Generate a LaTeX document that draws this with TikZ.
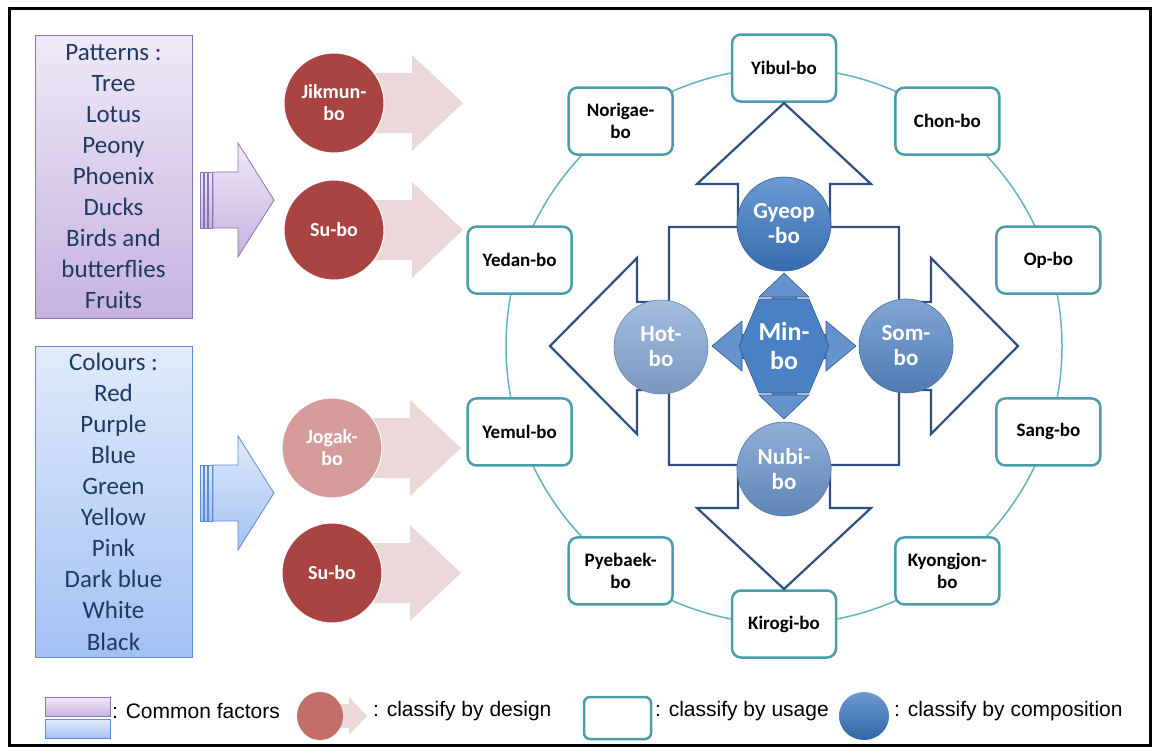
\documentclass[tikz,border=0pt]{standalone}
\usepackage{fontspec}
\setmainfont{Carlito}
\newfontfamily\legendfont{Liberation Sans}
\usetikzlibrary{calc,shapes.geometric}
\definecolor{textnavy}{HTML}{1F3A60}
\definecolor{purpletop}{HTML}{EFE9F7}
\definecolor{purplebot}{HTML}{C5B2E0}
\definecolor{purpleline}{HTML}{8C73B5}
\definecolor{bluetop}{HTML}{E0EBFC}
\definecolor{bluebot}{HTML}{A2C1F2}
\definecolor{blueline}{HTML}{5E8ED2}
\definecolor{designred}{HTML}{A94443}
\definecolor{designpink}{HTML}{D59C9B}
\definecolor{designkey}{HTML}{C46E6A}
\definecolor{designshaft}{HTML}{EBD9D9}
\definecolor{usageteal}{HTML}{4B9DAB}
\definecolor{ringteal}{HTML}{62B5C0}
\definecolor{compline}{HTML}{2F4F80}
\definecolor{gyeopblue}{HTML}{3B78C2}
\definecolor{hotblue}{HTML}{86A8D4}
\definecolor{somblue}{HTML}{5788C6}
\definecolor{nubiblue}{HTML}{6A94CA}
\definecolor{minblue}{HTML}{4A80C4}
\tikzset{
  factorbox/.style={minimum width=157pt,minimum height=283pt,inner sep=0pt,
                    line width=1pt,align=center,text=textnavy,
                    font=\fontsize{25}{31.1}\selectfont},
  designdot/.style={circle,minimum size=100pt,inner sep=0pt,draw=white,
                    line width=1pt,text=white,align=center,
                    font=\fontsize{20}{22}\selectfont\bfseries},
  usagebox/.style={draw=usageteal,line width=2.5pt,fill=white,rounded corners=9pt,
                   minimum width=104pt,minimum height=67pt,inner sep=0pt,
                   align=center,font=\fontsize{19}{22}\selectfont\bfseries},
  compdot/.style={circle,minimum size=94pt,inner sep=0pt,draw=#1!80!black,
                  line width=0.6pt,top color=#1!75!white,bottom color=#1!90!black,
                  text=white,align=center,font=\fontsize{23}{25}\selectfont\bfseries},
  compoutline/.style={draw=compline,line width=2.2pt,fill=white,line join=miter},
  minbopart/.style={fill=minblue!85!white,draw=minblue!70!black,line width=0.6pt},
  minbobody/.style={fill=minblue,draw=minblue!70!black,line width=0.6pt},
  legendtext/.style={anchor=west,inner sep=0pt,
                     font=\legendfont\fontsize{21}{24}\selectfont}
}
\begin{document}
\begin{tikzpicture}[x=1pt,y=-1pt]
  \useasboundingbox (0,0) rectangle (1158,753);
  \fill[white] (0,0) rectangle (1158,753);
  \draw[line width=3pt] (9.5,8.5) rectangle (1150.5,745.5);
  \coordinate (C) at (784,346);

  \node[factorbox,draw=purpleline,top color=purpletop,bottom color=purplebot] (pat)
    at (113.5,176.5) {Patterns :\\Tree\\Lotus\\Peony\\Phoenix\\Ducks\\Birds and\\butterflies\\Fruits};
  \node[factorbox,minimum height=311pt,draw=blueline,top color=bluetop,bottom color=bluebot] (col)
    at (113.5,501.5) {Colours :\\Red\\Purple\\Blue\\Green\\Yellow\\Pink\\Dark blue\\White\\Black};

  \foreach \cy/\tc/\bc/\lc in {200/purpletop/purplebot/purpleline,493/bluetop/bluebot/blueline}{
    \foreach \sx/\ex in {200/203,204.5/207,208.5/212}
      \draw[\lc,line width=0.6pt,top color=\tc,bottom color=\bc] (\sx,\cy-28) rectangle (\ex,\cy+28);
    \draw[\lc,line width=0.8pt,top color=\tc,bottom color=\bc]
      (213,\cy-28) -- (238,\cy-28) -- (238,\cy-57) -- (274,\cy) -- (238,\cy+57) -- (238,\cy+28) -- (213,\cy+28) -- cycle;
  }

  \foreach \name/\px/\py/\col/\txt in {jikmun/334/103/designred/Jikmun-\\bo,
      subotop/334/230/designred/Su-bo,jogak/332/448/designpink/Jogak-\\bo,
      subobot/332/573/designred/Su-bo}{
    \fill[designshaft] (\px,\py) ++(0,-30) -- ++(78,0) -- ++(0,-18) -- ++(51,48)
      -- ++(-51,48) -- ++(0,-18) -- ++(-78,0) -- cycle;
    \node[designdot,fill=\col] (\name) at (\px,\py) {\txt};
  }

  \draw[ringteal,line width=1.5pt] (C) circle[radius=278];
  \foreach \name/\ang/\txt in {yibul/90/Yibul-bo,chon/54/Chon-bo,opbo/18/Op-bo,
      sang/-18/Sang-bo,kyongjon/-54/Kyongjon-\\bo,kirogi/-90/Kirogi-bo,
      pyebaek/-126/Pyebaek-\\bo,yemul/-162/Yemul-bo,yedan/162/Yedan-bo,
      norigae/126/Norigae-\\bo}
    \node[usagebox] (\name) at ($(C)+(-\ang:278)$) {\txt};

  \draw[compoutline,shift={(C)}] (0,-243) -- (87,-162) -- (46,-162) -- (46,-119) -- (115,-119)
    -- (115,-44) -- (147,-44) -- (147,-88) -- (234,0) -- (147,88) -- (147,44) -- (115,44)
    -- (115,119) -- (46,119) -- (46,162) -- (87,162) -- (0,243) -- (-87,162) -- (-46,162)
    -- (-46,119) -- (-115,119) -- (-115,44) -- (-147,44) -- (-147,88) -- (-234,0)
    -- (-147,-88) -- (-147,-44) -- (-115,-44) -- (-115,-119) -- (-46,-119) -- (-46,-162)
    -- (-87,-162) -- cycle;

  \node[compdot=gyeopblue] (gyeop) at ($(C)+(0,-122)$) {Gyeop\\-bo};
  \node[compdot=nubiblue] (nubi) at ($(C)+(0,123)$) {Nubi-\\bo};
  \node[compdot=hotblue] (hot) at ($(C)+(-123,1)$) {Hot-\\bo};
  \node[compdot=somblue] (som) at ($(C)+(122,0)$) {Som-\\bo};

  \begin{scope}[shift={(C)}]
    \filldraw[minbopart] (-12,-50) rectangle (12,50);
    \filldraw[minbopart] (-43,-12) rectangle (43,12);
    \filldraw[minbopart] (-25,-49) -- (25,-49) -- (0,-73) -- cycle;
    \filldraw[minbopart] (-25,49) -- (25,49) -- (0,73) -- cycle;
    \filldraw[minbopart] (-42,-25) -- (-42,25) -- (-72,0) -- cycle;
    \filldraw[minbopart] (42,-25) -- (42,25) -- (72,0) -- cycle;
    \filldraw[minbobody] (-25,-47) -- (25,-47) -- (45,0) -- (25,47) -- (-25,47) -- (-45,0) -- cycle;
  \end{scope}
  \node[text=white,align=center,font=\fontsize{26}{29}\selectfont\bfseries] (minbo) at (C) {Min-\\bo};

  \node[draw=purpleline,top color=purpletop,bottom color=purplebot,line width=0.8pt,
        minimum width=65pt,minimum height=19pt,inner sep=0pt] (keypat) at (77.5,707) {};
  \node[draw=blueline,top color=bluetop,bottom color=bluebot,line width=0.8pt,
        minimum width=65pt,minimum height=19pt,inner sep=0pt] (keycol) at (77.5,729) {};
  \node[legendtext] (keyfactor) at (112,711) {: Common factors};
  \fill[designshaft] (322,704) -- (349,704) -- (349,697) -- (367,716) -- (349,735) -- (349,728) -- (322,728) -- cycle;
  \node[ellipse,fill=designkey,minimum width=46pt,minimum height=48pt,inner sep=0pt] (keydesign) at (320,716) {};
  \node[legendtext] (keydesigntext) at (373,711) {: classify by design};
  \node[draw=usageteal,line width=2.5pt,rounded corners=6pt,minimum width=67pt,
        minimum height=42pt,inner sep=0pt] (keyusage) at (617.5,718) {};
  \node[legendtext] (keyusagetext) at (655,711) {: classify by usage};
  \node[ellipse,top color=gyeopblue!75!white,bottom color=gyeopblue!85!black,
        minimum width=50pt,minimum height=48pt,inner sep=0pt] (keycomp) at (864,716) {};
  \node[legendtext] (keycomptext) at (894,711) {: classify by composition};
\end{tikzpicture}
\end{document}
